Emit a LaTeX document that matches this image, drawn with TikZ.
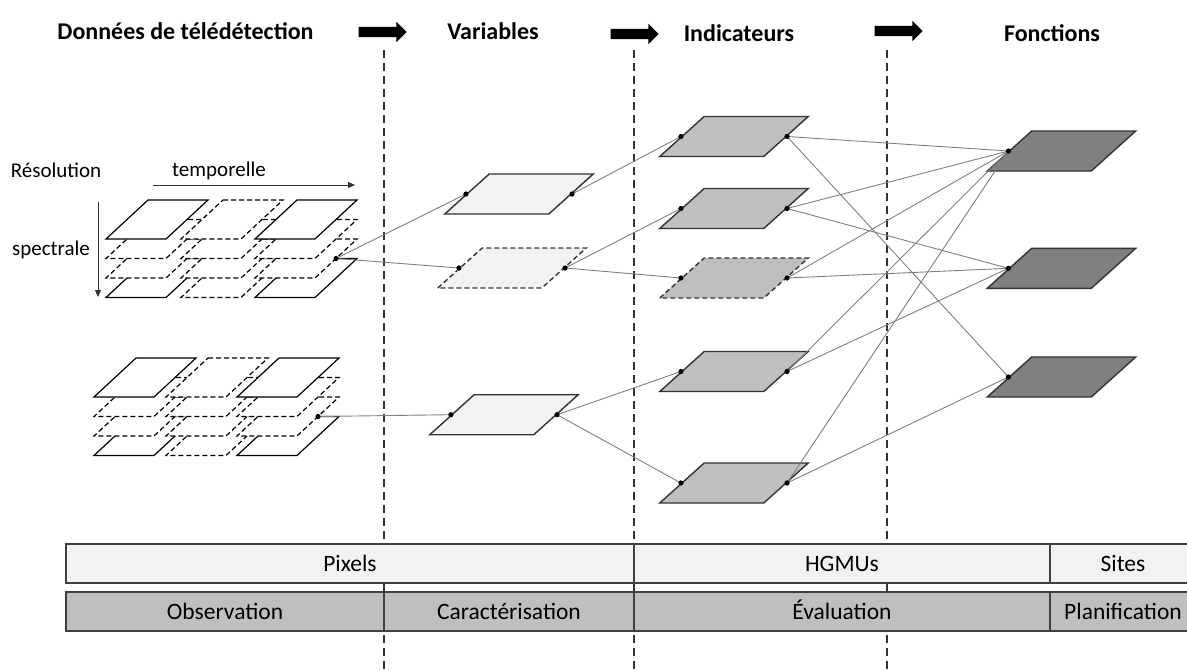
\documentclass[tikz,border=0pt]{standalone}
\usepackage{fontspec}
\setmainfont{Carlito}
\usetikzlibrary{shapes.geometric, shapes.arrows, arrows.meta, positioning, calc}
\tikzset{
    plate/.style={
        trapezium,
        trapezium left angle=42,
        trapezium right angle=138,
        inner xsep=29.8pt,
        inner ysep=20pt,
        draw=black!80,
        line width=1.4pt
    },
    varplate/.style={plate, fill=gray!10},
    indplate/.style={plate, fill=gray!50},
    fonplate/.style={plate, fill=gray},
    hiddenedge/.style={dash pattern=on 5pt off 3pt},
    layer/.style={fill=white, draw=black, line width=1.2pt},
    title/.style={font=\fontsize{24}{28}\selectfont\bfseries},
    note/.style={font=\fontsize{21}{25}\selectfont},
    cell/.style={
        rectangle,
        draw=black!75,
        line width=1.2pt,
        minimum height=39pt,
        inner sep=0pt,
        text height=16.5pt,
        text depth=0pt,
        font=\fontsize{23.5}{27}\selectfont
    },
    bigarrow/.style={
        single arrow,
        fill=black,
        inner sep=5pt,
        single arrow head extend=5pt,
        single arrow head indent=0pt,
        minimum height=48pt
    },
    thinarrow/.style={draw=black!80, line width=0.9pt, -{Triangle[length=7pt, width=6pt]}},
    link/.style={draw=gray, line width=0.9pt},
    divider/.style={draw=black!80, line width=1.8pt, dash pattern=on 8pt off 5pt}
}

\begin{document}
\begin{tikzpicture}[x=1pt, y=-1pt]
    \useasboundingbox (0,0) rectangle (1187,670);

    % phase dividers
    \foreach \x in {384,634,887}
        \draw [divider] (\x,50) -- (\x,670);

    % headings
    \node (donnees) [title] at (185.5,31) {Données de télédétection};
    \node (variables) [title] at (493,31) {Variables};
    \node (indicateurs) [title] at (739,33) {Indicateurs};
    \node (fonctions) [title] at (1052,33) {Fonctions};
    \node (fl1) [bigarrow] at (380,32) {};
    \node (fl2) [bigarrow] at (632,34) {};
    \node (fl3) [bigarrow] at (896,31) {};

    % resolution axes
    \node (reso) [note] at (56,170) {Résolution};
    \node (temp) [note] at (219,171) {temporelle};
    \node (spec) [note] at (51,250) {spectrale};
    \coordinate (t0) at (153,185);
    \coordinate (t1) at (355,185);
    \coordinate (s0) at (98,202);
    \coordinate (s1) at (98,297);
    \draw [thinarrow] (t0) -- (t1);
    \draw [thinarrow] (s0) -- (s1);

    % image stacks
    \foreach \top/\xa/\xb/\xc in {200/148/223/297, 358/136/208/279} {
        \foreach \cx [count=\c] in {\xa,\xb,\xc} {
            \foreach \k in {3,2,1,0} {
                \pgfmathtruncatemacro\dsh{(\c==2)||(\k==1)||(\k==2)}
                \ifnum\dsh=1
                    \draw [layer, hiddenedge] (\cx,{\top+19.5*\k}) -- ++(60,0) -- ++(-42,39) -- ++(-60,0) -- cycle;
                \else
                    \draw [layer] (\cx,{\top+19.5*\k}) -- ++(60,0) -- ++(-42,39) -- ++(-60,0) -- cycle;
                \fi
            }
        }
    }
    \coordinate (st1) at (336,258.5);
    \coordinate (st2) at (318,416.5);

    % variables, indicateurs, fonctions
    \node (var1) [varplate] at (519,194) {};
    \node (var2) [varplate, hiddenedge] at (512,268) {};
    \node (var3) [varplate] at (504,414.7) {};

    \node (ind1) [indplate] at (734,136.5) {};
    \node (ind2) [indplate] at (734,208.5) {};
    \node (ind3) [indplate, hiddenedge] at (734,278) {};
    \node (ind4) [indplate] at (734,371.5) {};
    \node (ind5) [indplate] at (734,483) {};

    \node (fon1) [fonplate] at (1061.5,151) {};
    \node (fon2) [fonplate] at (1061.5,268.3) {};
    \node (fon3) [fonplate] at (1061.5,377) {};

    \draw [link] (st1) -- (var1.left side);
    \draw [link] (st1) -- (var2.left side);
    \draw [link] (st2) -- (var3.left side);
    \draw [link] (var1.right side) -- (ind1.left side);
    \draw [link] (var2.right side) -- (ind2.left side);
    \draw [link] (var2.right side) -- (ind3.left side);
    \draw [link] (var3.right side) -- (ind4.left side);
    \draw [link] (var3.right side) -- (ind5.left side);
    \draw [link] (ind1.right side) -- (fon1.left side);
    \draw [link] (ind1.right side) -- (fon3.left side);
    \draw [link] (ind2.right side) -- (fon1.left side);
    \draw [link] (ind2.right side) -- (fon2.left side);
    \draw [link] (ind3.right side) -- (fon1.left side);
    \draw [link] (ind3.right side) -- (fon2.left side);
    \draw [link] (ind4.right side) -- (fon1.left side);
    \draw [link] (ind4.right side) -- (fon2.left side);
    \draw [link] (ind5.right side) -- (fon1.left side);
    \draw [link] (ind5.right side) -- (fon3.left side);

    \foreach \p in {st1, st2, var1.left side, var1.right side, var2.left side, var2.right side,
        var3.left side, var3.right side, ind1.left side, ind1.right side, ind2.left side,
        ind2.right side, ind3.left side, ind3.right side, ind4.left side, ind4.right side,
        ind5.left side, ind5.right side, fon1.left side, fon2.left side, fon3.left side}
        \fill (\p) circle (2.6pt);

    % scale and process bars
    \node (pixels) [cell, fill=gray!10, minimum width=568pt] at (350,563.5) {Pixels};
    \node (hgmus) [cell, fill=gray!10, minimum width=416pt] at (842,563.5) {HGMUs};
    \node (sites) [cell, fill=gray!10, minimum width=146pt] at (1123,563.5) {Sites};
    \node (obs) [cell, fill=gray!50, minimum width=318pt] at (225,611.5) {Observation};
    \node (carac) [cell, fill=gray!50, minimum width=250pt] at (509,611.5) {Caractérisation};
    \node (eval) [cell, fill=gray!50, minimum width=416pt] at (842,611.5) {Évaluation};
    \node (planif) [cell, fill=gray!50, minimum width=146pt] at (1123,611.5) {Planification};

\end{tikzpicture}
\end{document}
